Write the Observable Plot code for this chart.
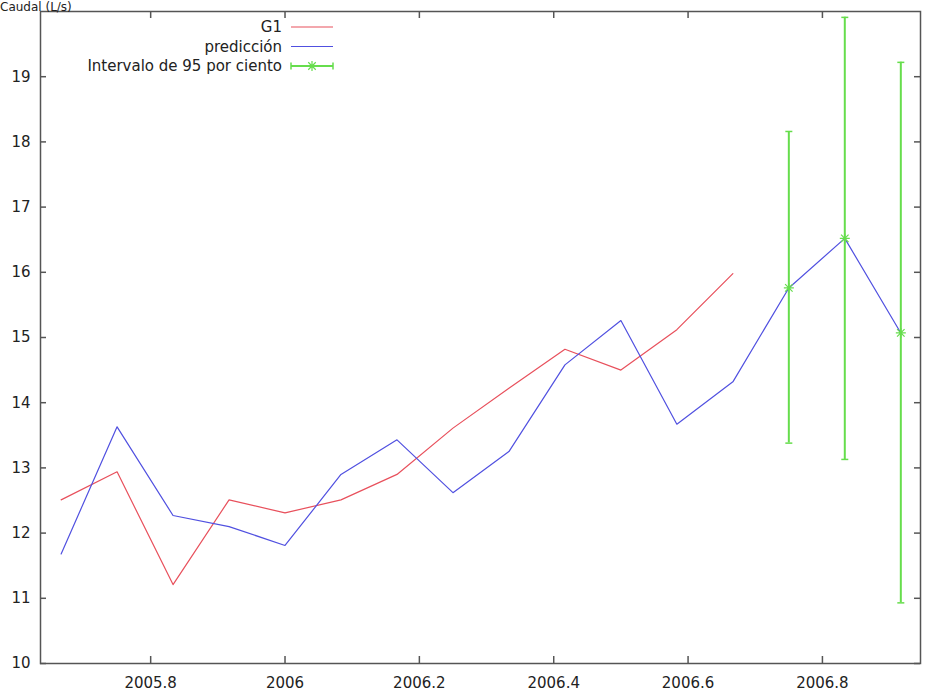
<!DOCTYPE html>
<html>
<head>
<meta charset="utf-8">
<script src="https://cdn.jsdelivr.net/npm/d3@7"></script>
<script src="https://cdn.jsdelivr.net/npm/@observablehq/plot@0.6"></script>
<style>
  html, body { margin: 0; padding: 0; background: #fff; }
  #wrap { position: relative; width: 925px; height: 695px; overflow: hidden; }
  #wrap svg { display: block; }
  #overlay { position: absolute; left: 0; top: 0; pointer-events: none; }
</style>
</head>
<body>
<div id="wrap"></div>
<script>
// ---- data ----
const months = [2005.6667, 2005.75, 2005.8333, 2005.9167, 2006.0, 2006.0833, 2006.1667, 2006.25,
                2006.3333, 2006.4167, 2006.5, 2006.5833, 2006.6667, 2006.75, 2006.8333, 2006.9167];
const g1 = [12.51, 12.94, 11.21, 12.51, 12.31, 12.51, 12.90, 13.61, 14.22, 14.82, 14.50, 15.12, 15.98];
const prediccion = [11.68, 13.63, 12.27, 12.10, 11.81, 12.90, 13.43, 12.62, 13.25, 14.58, 15.26, 13.67, 14.32, 15.76, 16.52, 15.07];
const intervalX = [2006.75, 2006.8333, 2006.9167];
const intervalCenter = [15.76, 16.52, 15.07];
const intervalLow = [13.38, 13.13, 10.93];
const intervalHigh = [18.16, 19.91, 19.22];
const xTicks = [2005.8, 2006.0, 2006.2, 2006.4, 2006.6, 2006.8];
const xTickLabels = ["2005.8", "2006", "2006.2", "2006.4", "2006.6", "2006.8"];
const yTicks = [10, 11, 12, 13, 14, 15, 16, 17, 18, 19];
const yTickLabels = ["10", "11", "12", "13", "14", "15", "16", "17", "18", "19"];
const seriesNames = ["G1", "predicción", "Intervalo de 95 por ciento"];
const yLabel = "Caudal (L/s)";

// ---- derived tables ----
const g1Data = g1.map((v, i) => ({x: months[i], y: v}));
const predData = prediccion.map((v, i) => ({x: months[i], y: v}));
const intData = intervalX.map((x, i) => ({x, y: intervalCenter[i], lo: intervalLow[i], hi: intervalHigh[i]}));

const RED = "#e8505c", BLUE = "#5050e0", GREEN = "#66dd4c", FRAME = "#555";
const W = 925, H = 695, ML = 40, MR = 5, MT = 11, MB = 32;
const innerW = W - ML - MR, innerH = H - MT - MB;

const star = {
  draw(ctx, size) {
    const r = Math.sqrt(size / Math.PI);
    ctx.moveTo(-r, 0); ctx.lineTo(r, 0);
    ctx.moveTo(0, -r); ctx.lineTo(0, r);
    const d = r * 0.75;
    ctx.moveTo(-d, -d); ctx.lineTo(d, d);
    ctx.moveTo(-d, d); ctx.lineTo(d, -d);
  }
};
const cap = {
  draw(ctx, size) {
    const r = Math.sqrt(size / Math.PI);
    ctx.moveTo(-r, 0); ctx.lineTo(r, 0);
  }
};

const chart = Plot.plot({
  width: W, height: H,
  marginLeft: ML, marginRight: MR, marginTop: MT, marginBottom: MB,
  style: {fontFamily: "DejaVu Sans", fontSize: "15px", color: "#222", background: "#fff"},
  x: {domain: [2005.636, 2006.946], axis: null, label: null},
  y: {domain: [10, 20], axis: null, label: null},
  marks: [
    Plot.axisX(xTicks, {anchor: "bottom", tickSize: 0, tickPadding: 14, fill: "#222", label: null,
      tickFormat: d => xTickLabels[xTicks.indexOf(d)]}),
    Plot.axisY(yTicks, {anchor: "left", tickSize: 0, tickPadding: 10, fill: "#222", label: null,
      tickFormat: d => yTickLabels[yTicks.indexOf(d)]}),
    // inward ticks on all four sides
    Plot.ruleX(xTicks, {x: d => d, insetTop: innerH - 7, stroke: FRAME, strokeWidth: 1.5}),
    Plot.ruleX(xTicks, {x: d => d, insetBottom: innerH - 7, stroke: FRAME, strokeWidth: 1.5}),
    Plot.ruleY(yTicks, {y: d => d, insetRight: innerW - 6, stroke: FRAME, strokeWidth: 1.5}),
    Plot.ruleY(yTicks, {y: d => d, insetLeft: innerW - 6, stroke: FRAME, strokeWidth: 1.5}),
    Plot.line(g1Data, {x: "x", y: "y", stroke: RED, strokeWidth: 1.2}),
    Plot.line(predData, {x: "x", y: "y", stroke: BLUE, strokeWidth: 1.2}),
    Plot.ruleX(intData, {x: "x", y1: "lo", y2: "hi", stroke: GREEN, strokeWidth: 2}),
    Plot.dot(intData, {x: "x", y: "lo", symbol: cap, r: 3.5, stroke: GREEN, strokeWidth: 1.5}),
    Plot.dot(intData, {x: "x", y: "hi", symbol: cap, r: 3.5, stroke: GREEN, strokeWidth: 1.5}),
    Plot.dot(intData, {x: "x", y: "y", symbol: star, r: 5, stroke: GREEN, strokeWidth: 1.2}),
    Plot.frame({stroke: FRAME, strokeWidth: 1.5})
  ]
});
document.getElementById("wrap").appendChild(chart);

// ---- legend & y label overlay ----
const ov = d3.select("#wrap").append("svg").attr("id", "overlay")
  .attr("width", 340).attr("height", 80)
  .style("font-family", "DejaVu Sans");
ov.append("text").attr("x", 0).attr("y", 11).attr("font-size", 12).attr("fill", "#222").text(yLabel);
const rowsY = [27, 46.5, 66];
const colors = [RED, BLUE, GREEN];
seriesNames.forEach((name, i) => {
  const y = rowsY[i];
  ov.append("text").attr("x", 282).attr("y", y).attr("text-anchor", "end")
    .attr("dominant-baseline", "central").attr("font-size", 15).attr("fill", "#222").text(name);
  ov.append("line").attr("x1", 291).attr("x2", 333).attr("y1", y).attr("y2", y)
    .attr("stroke", colors[i]).attr("stroke-width", i === 2 ? 2 : 1.2);
  if (i === 2) {
    [291, 333].forEach(x => ov.append("line").attr("x1", x).attr("x2", x).attr("y1", y - 3.5).attr("y2", y + 3.5)
      .attr("stroke", GREEN).attr("stroke-width", 1.5));
    const s = 5, d = 3.75, cx = 312;
    ov.append("path").attr("d",
      `M${cx - s},${y}L${cx + s},${y}M${cx},${y - s}L${cx},${y + s}M${cx - d},${y - d}L${cx + d},${y + d}M${cx - d},${y + d}L${cx + d},${y - d}`)
      .attr("stroke", GREEN).attr("stroke-width", 1.2).attr("fill", "none");
  }
});
</script>
</body>
</html>
